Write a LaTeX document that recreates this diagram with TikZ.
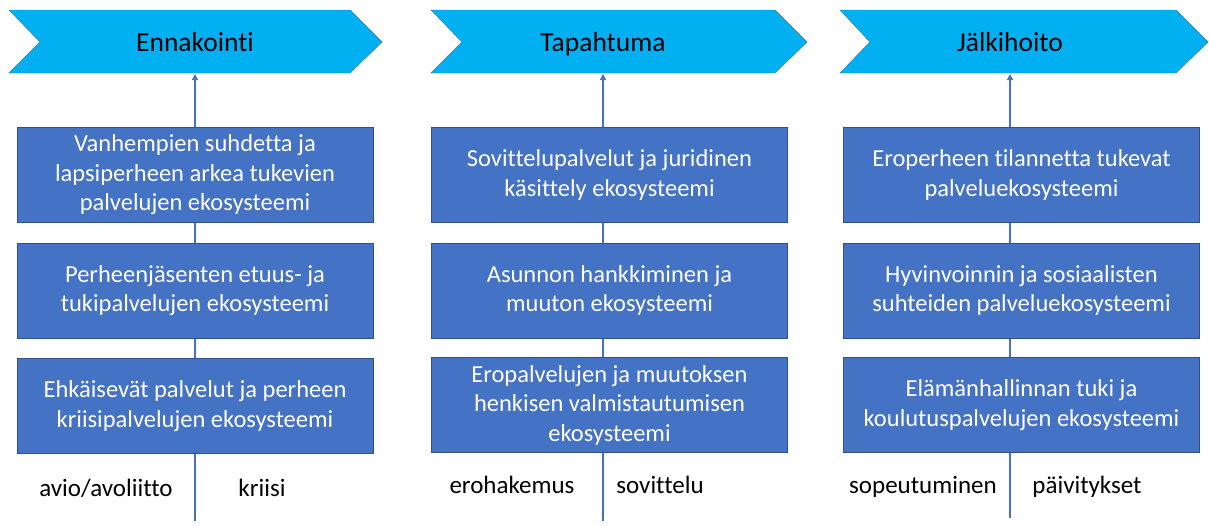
\documentclass[tikz,border=0pt]{standalone}
\usepackage{fontspec}
\setmainfont[Ligatures=CommonOff]{Carlito}
\usetikzlibrary{arrows.meta}

\definecolor{phase}{HTML}{00B0F0}
\definecolor{phaseedge}{HTML}{2E75B6}
\definecolor{eco}{HTML}{4472C4}
\definecolor{ecoedge}{HTML}{2F528F}

\begin{document}
\begin{tikzpicture}[x=1pt,y=-1pt,
	phasetext/.style={anchor=base,font=\fontsize{27.5}{32}\selectfont},
	ecobox/.style={draw=ecoedge,fill=eco,text=white,line width=1pt,
		minimum width=356pt,minimum height=95pt,align=center,
		font=\fontsize{24.5}{29.5}\selectfont},
	spine/.style={draw=eco,line width=1.3pt},
	uparrow/.style={spine,-{Triangle[width=6pt,length=6pt]}},
	event/.style={anchor=base,font=\fontsize{25}{30}\selectfont}]
	
	\useasboundingbox (0,0) rectangle (1209,525);
	
	% Vaihe 1 : ennakointi
	\draw[fill=phase,draw=phaseedge] (9,10) -- (350,10) -- (382,42) -- (350,73) -- (9,73) -- (40,42) -- cycle;
	\node[phasetext] (ennakointi) at (195,51) {Ennakointi};
	\coordinate (kanta1) at (195,74);
	\coordinate (pohja1) at (195,521);
	\draw[uparrow] (pohja1) -- (kanta1);
	
	\node[ecobox] (vanhemmat) at (195,175) {Vanhempien suhdetta ja\\lapsiperheen arkea tukevien\\palvelujen ekosysteemi};
	\node[ecobox] (etuudet) at (195,290.5) {Perheenjäsenten etuus- ja\\tukipalvelujen ekosysteemi};
	\node[ecobox] (kriisipalvelut) at (195,406) {Ehkäisevät palvelut ja perheen\\kriisipalvelujen ekosysteemi};
	
	\node[event] (avioliitto) at (106,496) {avio/avoliitto};
	\node[event] (kriisi) at (262,496) {kriisi};
	
	% Vaihe 2 : tapahtuma
	\draw[fill=phase,draw=phaseedge] (431,10) -- (775,10) -- (807,42) -- (775,73) -- (431,73) -- (462,42) -- cycle;
	\node[phasetext] (tapahtuma) at (603,51) {Tapahtuma};
	\coordinate (kanta2) at (603,74);
	\coordinate (pohja2) at (603,521);
	\draw[uparrow] (pohja2) -- (kanta2);
	
	\node[ecobox] (sovittelu) at (609.5,175) {Sovittelupalvelut ja juridinen\\käsittely ekosysteemi};
	\node[ecobox] (asunto) at (609.5,290.5) {Asunnon hankkiminen ja\\muuton ekosysteemi};
	\node[ecobox] (eropalvelut) at (609.5,405) {Eropalvelujen ja muutoksen\\henkisen valmistautumisen\\ekosysteemi};
	
	\node[event] (erohakemus) at (512,493) {erohakemus};
	\node[event] (sovittelutapahtuma) at (660,493) {sovittelu};
	
	% Vaihe 3 : jälkihoito
	\draw[fill=phase,draw=phaseedge] (840,10) -- (1176,10) -- (1208,42) -- (1176,73) -- (840,73) -- (870,42) -- cycle;
	\node[phasetext] (jalkihoito) at (1010,51) {Jälkihoito};
	\coordinate (kanta3) at (1010,74);
	\coordinate (pohja3) at (1010,518);
	\draw[uparrow] (pohja3) -- (kanta3);
	
	\node[ecobox] (eroperhe) at (1021.5,175) {Eroperheen tilannetta tukevat\\palveluekosysteemi};
	\node[ecobox] (hyvinvointi) at (1021.5,290.5) {Hyvinvoinnin ja sosiaalisten\\suhteiden palveluekosysteemi};
	\node[ecobox] (elamanhallinta) at (1021.5,405) {Elämänhallinnan tuki ja\\koulutuspalvelujen ekosysteemi};
	
	\node[event] (sopeutuminen) at (923,493) {sopeutuminen};
	\node[event] (paivitykset) at (1087,493) {päivitykset};
	
\end{tikzpicture}
\end{document}
